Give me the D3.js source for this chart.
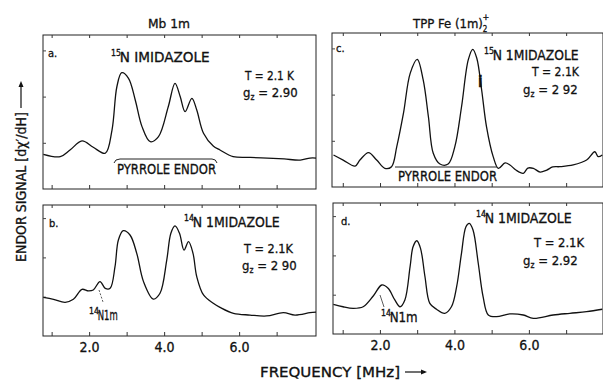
<!DOCTYPE html>
<html>
<head>
<meta charset="utf-8">
<script src="https://cdn.jsdelivr.net/npm/d3@7"></script>
<style>
  html, body { margin: 0; padding: 0; background: #fff; }
  svg { display: block; }
  text { font-family: "Liberation Sans Narrow", "DejaVu Sans Condensed", "Liberation Sans", sans-serif; fill: #111; stroke: #111; stroke-width: 0.3; }
</style>
</head>
<body>
<svg id="chart" width="603" height="381"></svg>
<script>
// values: frequency (MHz) and ENDOR signal (arb. units, 0-100 of panel height)
const freqA = [0.78,1.23,1.49,1.81,2.11,2.43,2.61,2.74,2.87,3.05,3.23,3.41,3.63,3.85,4.11,4.29,4.43,4.56,4.74,4.87,5.05,5.31,5.49,5.84,6.3,6.75,7.2,7.63,7.89,8.05];
const sigA  = [22.5,21,25.3,31.2,27.1,23.2,38.3,66.4,75.5,71.9,57.8,40.5,30.7,34,53.4,68.6,59.9,50.2,58.9,51.3,36.2,27.9,25.3,21,20.5,20.1,19.5,18.8,20.1,20.1];

const freqB = [0.78,1.05,1.36,1.58,1.81,1.98,2.11,2.29,2.43,2.56,2.69,2.78,2.91,3.09,3.27,3.45,3.71,3.89,4.07,4.18,4.29,4.41,4.53,4.65,4.77,4.87,5.05,5.31,5.49,5.85,6.29,6.73,7.18,7.49,7.89,8.05];
const sigB  = [29.5,28,25.7,28,35.6,34.4,35.1,41.5,36.4,36.4,52.9,73.3,80.4,77.1,63.1,41.5,28.2,32.6,58,78.4,84,78.4,65.6,72,63.1,45.3,31.3,25,21.9,17.3,16,15.3,17.8,16,17.8,18.3];

const freqC = [0.75,1.01,1.33,1.46,1.69,1.91,2.13,2.31,2.45,2.63,2.81,3.0,3.16,3.3,3.43,3.61,3.83,4.01,4.19,4.37,4.49,4.6,4.73,4.86,5.04,5.18,5.36,5.49,5.65,5.85,5.97,6.12,6.3,6.48,6.64,6.83,7.19,7.55,7.77,7.86,7.97];
const sigC  = [20.8,17.5,13.6,17.5,22.3,17.5,12.1,13.2,26.2,47.9,73.8,82.9,69.5,45.6,21.9,14.9,14.9,26.2,52.1,82.5,89.4,83.6,63,39.2,19.7,12.1,15.6,14.3,11,8.9,12.3,12.1,9.7,11,13,13.2,14.3,17.5,22.9,19.7,20.8];

const freqD = [0.75,1.01,1.28,1.55,1.82,2.05,2.22,2.4,2.54,2.67,2.81,2.89,2.99,3.09,3.21,3.34,3.52,3.74,3.92,4.06,4.19,4.31,4.4,4.5,4.64,4.77,4.91,5.13,5.49,5.85,6.12,6.65,7.1,7.55,7.97];
const sigD  = [22.7,20.8,19.6,20.8,29,37.4,34.9,26,20.8,26,51.4,66.6,71.2,65.4,43.7,23.4,18.9,15.8,20.8,36.1,61.6,81.9,84.5,79.4,54,28.5,14.5,13.2,15.3,14.5,12,14.5,15.8,17,18.9];

const tickValues = [2, 4, 6];
const tickLabels = ["2.0", "4.0", "6.0"];
const frameTicks = [1, 2, 3, 4, 5, 6, 7];
const columnTitles = ["Mb 1m", "TPP Fe (1m)"];

const svg = d3.select("#chart");

/// panel boxes (pixels) and x domain of each column
const panels = [
  { id: "a", f: freqA, s: sigA, x0: 43,  x1: 316, y0: 35,  y1: 189, dom: [0.77, 8.05], labels: false },
  { id: "c", f: freqC, s: sigC, x0: 332, x1: 603, y0: 33,  y1: 187, dom: [0.71, 7.99], labels: false },
  { id: "b", f: freqB, s: sigB, x0: 43,  x1: 316, y0: 205, y1: 336, dom: [0.77, 8.05], labels: true },
  { id: "d", f: freqD, s: sigD, x0: 333, x1: 603, y0: 203, y1: 334, dom: [0.74, 7.99], labels: true }
];

panels.forEach(p => {
  p.x = d3.scaleLinear().domain(p.dom).range([p.x0, p.x1]);
  p.y = d3.scaleLinear().domain([0, 100]).range([p.y1, p.y0]);

  let g = svg.append("g").attr("class", "panel-" + p.id);

  // frame
  g.append("rect")
    .attr("x", p.x0).attr("y", p.y0)
    .attr("width", p.x1 - p.x0).attr("height", p.y1 - p.y0)
    .attr("fill", "none").attr("stroke", "#222").attr("stroke-width", 1);

  // inward ticks top and bottom
  g.append("g")
    .attr("transform", "translate(0," + p.y1 + ")")
    .call(d3.axisBottom(p.x).tickValues(frameTicks).tickSize(-4).tickFormat(""))
    .call(a => a.select(".domain").remove())
    .selectAll("line").attr("stroke", "#333");
  g.append("g")
    .attr("transform", "translate(0," + p.y0 + ")")
    .call(d3.axisTop(p.x).tickValues(frameTicks).tickSize(-3).tickFormat(""))
    .call(a => a.select(".domain").remove())
    .selectAll("line").attr("stroke", "#333");
  g.append("g")
    .attr("transform", "translate(" + p.x0 + ",0)")
    .call(d3.axisLeft(p.y).tickValues([30, 60, 90]).tickSize(-3).tickFormat(""))
    .call(a => a.select(".domain").remove())
    .selectAll("line").attr("stroke", "#444");

  if (p.labels) {
    let ax = g.append("g")
      .attr("transform", "translate(0," + p.y1 + ")")
      .call(d3.axisBottom(p.x).tickValues(tickValues).tickSize(0).tickPadding(6)
        .tickFormat((d, i) => tickLabels[i]));
    ax.select(".domain").remove();
    ax.selectAll("text").attr("font-size", 14).attr("fill", "#111")
      .style("font-family", "'Liberation Sans Narrow','DejaVu Sans Condensed',sans-serif");
  }

  let line = d3.line()
    .x((d, i) => p.x(p.f[i]))
    .y(d => p.y(d))
    .curve(d3.curveCatmullRom.alpha(0.5));

  g.append("path")
    .datum(p.s)
    .attr("d", line)
    .attr("fill", "none")
    .attr("stroke", "#111")
    .attr("stroke-width", 1.3)
    .attr("stroke-linejoin", "round");
});

// helper for plain text
function txt(x, y, s, size, opts) {
  opts = opts || {};
  let t = svg.append("text").attr("x", x).attr("y", y)
    .attr("font-size", size).text(s);
  if (opts.anchor) t.attr("text-anchor", opts.anchor);
  if (opts.len) t.attr("textLength", opts.len).attr("lengthAdjust", "spacingAndGlyphs");
  if (opts.weight) t.attr("font-weight", opts.weight);
  return t;
}

// labelled nucleus with a superscript mass number
function nucleus(x, y, mass, rest, size, len) {
  txt(x, y - 6, mass, size * 0.62);
  txt(x + size * 0.62, y, rest, size, { len: len });
}

// g_z label
function gz(x, y, val, size) {
  let t = svg.append("text").attr("x", x).attr("y", y).attr("font-size", size);
  t.append("tspan").text("g");
  t.append("tspan").attr("font-size", size * 0.65).attr("dy", 3).text("z");
  t.append("tspan").attr("dy", -3).text(" = " + val);
}

// column titles
txt(169, 28, columnTitles[0], 13, { anchor: "middle", len: 42 });
let tt = svg.append("text").attr("x", 413).attr("y", 28).attr("font-size", 13);
tt.append("tspan").text(columnTitles[1]);
tt.append("tspan").attr("font-size", 8).attr("dy", 4).text("2");
tt.append("tspan").attr("font-size", 9).attr("dx", -5).attr("dy", -12).text("+");

// panel a
txt(48, 57, "a.", 11);
nucleus(111, 62, "15", "N  IMIDAZOLE", 14, 90);
txt(294, 80, "T = 2.1 K", 13, { anchor: "end", len: 49 });
gz(243, 97, "2.90", 13);
txt(117, 174, "PYRROLE ENDOR", 14, { len: 99 });
svg.append("path")
  .attr("d", "M114,163 Q115,159 120,159 L212,159 Q216,159 217,163")
  .attr("fill", "none").attr("stroke", "#222").attr("stroke-width", 1);

// panel c
txt(336, 52, "c.", 11);
nucleus(484, 60, "15", "N  1MIDAZOLE", 14, 86);
txt(579, 76, "T = 2.1K", 13, { anchor: "end", len: 47 });
gz(523, 94, "2 92", 13);
txt(398, 181, "PYRROLE ENDOR", 14, { len: 99 });
svg.append("line").attr("x1", 395).attr("x2", 497).attr("y1", 167).attr("y2", 167)
  .attr("stroke", "#222").attr("stroke-width", 1);
txt(478, 87, "i", 15, { weight: "bold" });

// panel b
txt(49, 227, "b.", 11);
nucleus(184, 227, "14", "N  1MIDAZOLE", 14, 87);
txt(293, 253, "T = 2.1K", 13, { anchor: "end", len: 49 });
gz(242, 270, "2 90", 13);
nucleus(89, 320, "14", "N1m", 14, 20);
svg.append("line").attr("x1", 99).attr("y1", 290).attr("x2", 103).attr("y2", 302)
  .attr("stroke", "#333").attr("stroke-width", 0.8).attr("stroke-dasharray", "2,1.5");

// panel d
txt(341, 225, "d.", 11);
nucleus(476, 223, "14", "N  1MIDAZOLE", 14, 87);
txt(584, 247, "T = 2.1K", 13, { anchor: "end", len: 50 });
gz(523, 265, "2.92", 13);
nucleus(381, 322, "14", "N1m", 14, 28);
svg.append("line").attr("x1", 380).attr("y1", 295).attr("x2", 384).attr("y2", 307)
  .attr("stroke", "#333").attr("stroke-width", 0.8);

// x axis title with arrow
txt(260, 377, "FREQUENCY [MHz]", 14, { len: 140 });
svg.append("line").attr("x1", 405).attr("x2", 425).attr("y1", 372).attr("y2", 372)
  .attr("stroke", "#111").attr("stroke-width", 1.2);
svg.append("path").attr("d", "M427,372 L421,369.5 L421,374.5 Z").attr("fill", "#111");

// y axis title with arrow (rotated)
svg.append("text")
  .attr("transform", "translate(26,262) rotate(-90)")
  .attr("font-size", 14)
  .attr("textLength", 150).attr("lengthAdjust", "spacingAndGlyphs")
  .text("ENDOR SIGNAL [dχ′/dH]");
svg.append("line").attr("x1", 21).attr("x2", 21).attr("y1", 108).attr("y2", 84)
  .attr("stroke", "#111").attr("stroke-width", 1.2);
svg.append("path").attr("d", "M21,81 L18.5,87 L23.5,87 Z").attr("fill", "#111");
</script>
</body>
</html>
